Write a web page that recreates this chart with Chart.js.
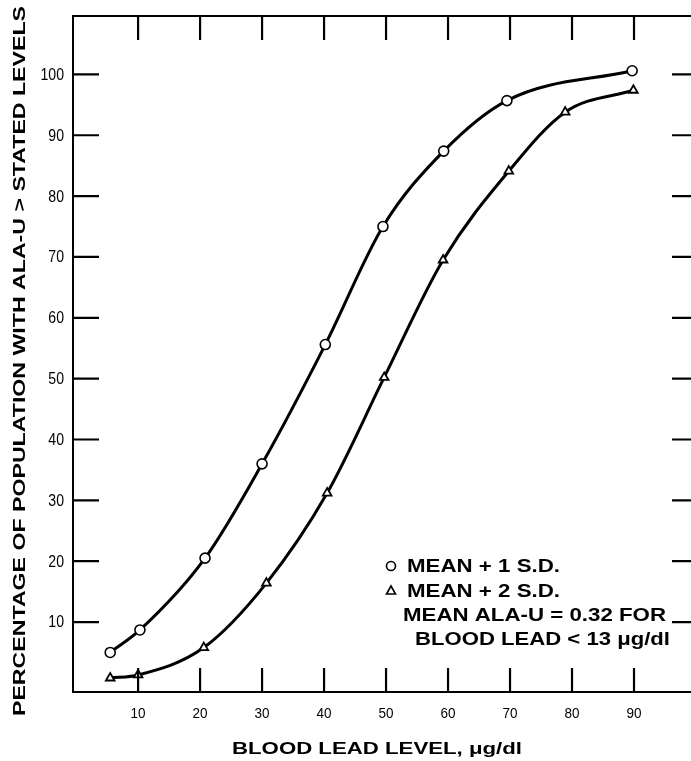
<!DOCTYPE html>
<html>
<head>
<meta charset="utf-8">
<script src="https://cdn.jsdelivr.net/npm/chart.js@4/dist/chart.umd.min.js"></script>
<style>
  html, body { margin: 0; padding: 0; background: #fff; overflow: hidden; }
  #wrap { position: absolute; left: 0; top: 0; width: 720px; height: 761px; }
</style>
</head>
<body>
<div id="wrap"><canvas id="chart" width="720" height="761"></canvas></div>
<script>
// data
const leadLevels1 = [5.5, 10.3, 20.8, 30, 40.2, 49.5, 59.3, 69.5, 89.7];
const pctMean1SD = [5, 8.7, 20.5, 36, 55.6, 75, 87.4, 95.7, 100.6];
const leadLevels2 = [5.5, 10, 20.6, 30.7, 40.5, 49.7, 59.2, 69.8, 78.9, 89.9];
const pctMean2SD = [0.8, 1.3, 5.8, 16.4, 31.2, 50.2, 69.5, 84.1, 93.8, 97.4];
const xTicks = [10, 20, 30, 40, 50, 60, 70, 80, 90];
const yTicks = [10, 20, 30, 40, 50, 60, 70, 80, 90, 100];

const yTitle = 'PERCENTAGE OF POPULATION WITH ALA-U > STATED LEVELS';
const xTitle = 'BLOOD LEAD LEVEL, \u03bcg/dl';
const noteLines = ['MEAN + 1 S.D.', 'MEAN + 2 S.D.', 'MEAN ALA-U = 0.32 FOR', 'BLOOD LEAD < 13 \u03bcg/dl'];

const sans = "'Liberation Sans', Arial, sans-serif";

function toPts(xs, ys) { return xs.map((x, i) => ({ x: x, y: ys[i] })); }

// draw text squeezed/stretched to a given width
function fitText(ctx, txt, x, y, w, font) {
    ctx.font = font;
    const m = ctx.measureText(txt).width;
    ctx.save();
    ctx.translate(x, y);
    ctx.scale(w / m, 1);
    ctx.fillText(txt, 0, 0);
    ctx.restore();
}

// squeeze text horizontally by a factor, anchored by align
function squeezeText(ctx, txt, x, y, k, font, align) {
    ctx.font = font;
    const m = ctx.measureText(txt).width * k;
    let x0 = x;
    if (align === 'center') x0 = x - m / 2;
    if (align === 'right') x0 = x - m;
    ctx.save();
    ctx.translate(x0, y);
    ctx.scale(k, 1);
    ctx.textAlign = 'left';
    ctx.fillText(txt, 0, 0);
    ctx.restore();
}

const decor = {
    id: 'decor',
    afterDraw(chart) {
        const ctx = chart.ctx;
        const a = chart.chartArea;
        const xs = chart.scales.x, ys = chart.scales.y;
        ctx.save();
        ctx.strokeStyle = '#000';
        ctx.fillStyle = '#000';
        // top frame line
        ctx.lineWidth = 2;
        ctx.beginPath();
        ctx.moveTo(a.left, a.top); ctx.lineTo(a.right, a.top);
        ctx.stroke();
        // inward ticks
        const len = 24;
        ctx.lineWidth = 2.2;
        ctx.beginPath();
        xTicks.forEach(v => {
            const px = xs.getPixelForValue(v);
            ctx.moveTo(px, a.bottom); ctx.lineTo(px, a.bottom - len);
            ctx.moveTo(px, a.top); ctx.lineTo(px, a.top + len);
        });
        yTicks.forEach(v => {
            const py = ys.getPixelForValue(v);
            ctx.moveTo(a.left, py); ctx.lineTo(a.left + len + 2, py);
            ctx.moveTo(a.right, py); ctx.lineTo(a.right - len, py);
        });
        ctx.stroke();

        // tick labels
        ctx.textBaseline = 'middle';
        yTicks.forEach(v => {
            squeezeText(ctx, String(v), 64, ys.getPixelForValue(v) + 1, 0.88, '16px ' + sans, 'right');
        });
        ctx.textBaseline = 'alphabetic';
        xTicks.forEach(v => {
            squeezeText(ctx, String(v), xs.getPixelForValue(v), 718, 0.9, '15px ' + sans, 'center');
        });

        // axis titles
        ctx.textAlign = 'left';
        ctx.save();
        ctx.translate(25, 716);
        ctx.rotate(-Math.PI / 2);
        fitText(ctx, yTitle, 0, 0, 710, 'bold 17px ' + sans);
        ctx.restore();
        fitText(ctx, xTitle, 232, 754, 290, 'bold 17px ' + sans);

        // note / legend
        const nf = 'bold 18px ' + sans;
        fitText(ctx, noteLines[0], 407, 572, 153, nf);
        fitText(ctx, noteLines[1], 407, 597, 153, nf);
        fitText(ctx, noteLines[2], 403, 621, 263, nf);
        fitText(ctx, noteLines[3], 415, 645, 255, nf);
        ctx.lineWidth = 1.6;
        ctx.beginPath();
        ctx.arc(391, 566, 4.5, 0, Math.PI * 2);
        ctx.stroke();
        ctx.beginPath();
        ctx.moveTo(391, 586); ctx.lineTo(395.5, 594); ctx.lineTo(386.5, 594); ctx.closePath();
        ctx.stroke();
        ctx.restore();
    }
};

const ctx = document.getElementById('chart').getContext('2d');
new Chart(ctx, {
    type: 'scatter',
    data: {
        datasets: [{
            data: toPts(leadLevels1, pctMean1SD),
            showLine: true,
            cubicInterpolationMode: 'monotone',
            borderColor: '#000',
            borderWidth: 3,
            pointStyle: 'circle',
            pointRadius: 5,
            pointBorderWidth: 1.6,
            pointBorderColor: '#000',
            pointBackgroundColor: '#fff'
        }, {
            data: toPts(leadLevels2, pctMean2SD),
            showLine: true,
            cubicInterpolationMode: 'monotone',
            borderColor: '#000',
            borderWidth: 3,
            pointStyle: 'triangle',
            pointRadius: 5,
            pointBorderWidth: 1.8,
            pointBorderColor: '#000',
            pointBackgroundColor: '#fff'
        }]
    },
    options: {
        responsive: false,
        animation: false,
        devicePixelRatio: 1,
        layout: { padding: { top: 16, right: 24, left: 0, bottom: 0 } },
        plugins: { legend: { display: false }, tooltip: { enabled: false } },
        scales: {
            x: {
                type: 'linear', min: -0.5, max: 100,
                grid: { display: false },
                border: { display: true, color: '#000', width: 2 },
                ticks: { display: false },
                afterBuildTicks: s => { s.ticks = xTicks.map(v => ({ value: v })); },
                afterFit: s => { s.height = 69; }
            },
            y: {
                type: 'linear', min: -1.5, max: 109.6,
                grid: { display: false },
                border: { display: true, color: '#000', width: 2 },
                ticks: { display: false },
                afterBuildTicks: s => { s.ticks = yTicks.map(v => ({ value: v })); },
                afterFit: s => { s.width = 73; }
            }
        }
    },
    plugins: [decor]
});
</script>
</body>
</html>
